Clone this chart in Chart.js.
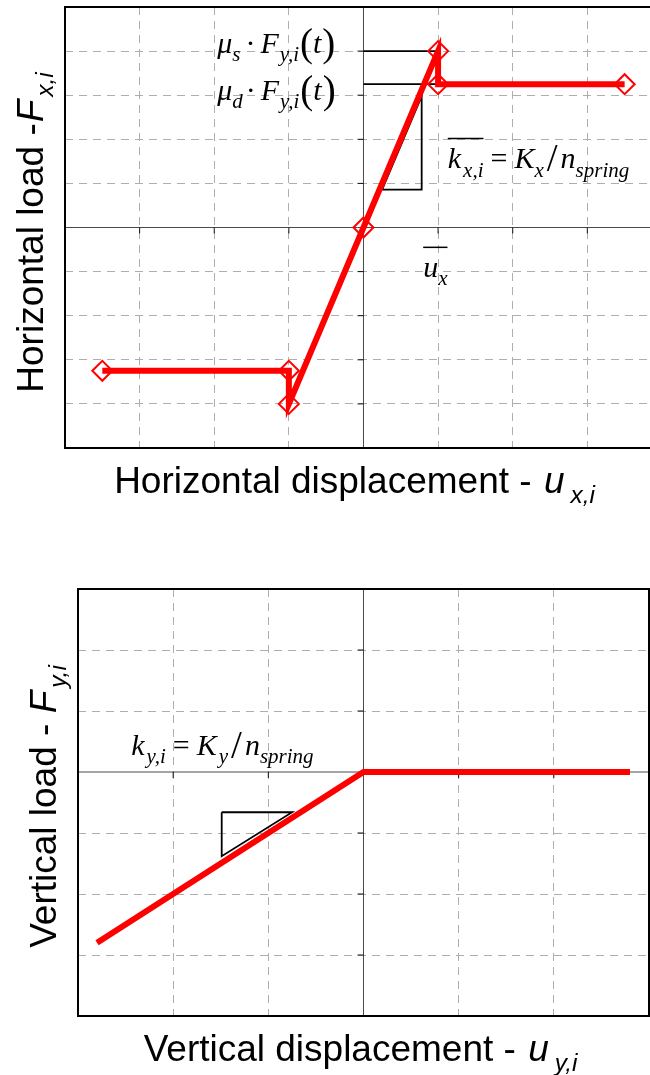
<!DOCTYPE html>
<html>
<head>
<meta charset="utf-8">
<script src="https://cdn.jsdelivr.net/npm/chart.js@4.4.1/dist/chart.umd.min.js"></script>
<style>
  html, body { margin: 0; padding: 0; background: #fff; }
  body { width: 650px; height: 1075px; position: relative; overflow: hidden; }
  .panel { position: absolute; left: 0; width: 650px; }
  #panelH { top: 0; height: 520px; }
  #panelV { top: 520px; height: 555px; }
</style>
</head>
<body>
<div class="panel" id="panelH"><canvas id="chartH"></canvas></div>
<div class="panel" id="panelV"><canvas id="chartV"></canvas></div>
<script>
// ── data ─────────────────────────────────────────────────
// horizontal spring: stick-slip friction law
const hxDisp = [-3.5, -1, -1, 0, 1, 1, 3.5];
const hxLoad = [-3.25, -3.25, -4, 0, 4, 3.25, 3.25];
// static / dynamic friction levels (from the load axis to u_x)
const hxRefDisp    = [0, 1];
const hxStaticRef  = [4, 4];
const hxDynamicRef = [3.25, 3.25];
// stiffness triangle
const hxSlopeDisp = [0.25, 0.78, 0.78, 0.25];
const hxSlopeLoad = [0.86, 0.86, 2.98, 0.86];

// vertical spring: compression only
const vyDisp = [-2.8, 0, 2.8];
const vyLoad = [-2.8, 0, 0];
const vySlopeDisp = [-1.49, -0.75, -1.49, -1.49];
const vySlopeLoad = [-0.66, -0.66, -1.38, -0.66];

// axis ranges (grid every unit)
const hxRange = { xMin: -4, xMax: 3.84, yMin: -5, yMax: 5 };
const vyRange = { xMin: -3, xMax: 3, yMin: -4, yMax: 3 };

const RED = '#ff0000';
const SANS = '"Liberation Sans", Arial, sans-serif';
const SERIF = '"Liberation Serif", "Times New Roman", serif';

const pts = (xs, ys) => xs.map((x, i) => ({ x, y: ys[i] }));

// ── rich text ────────────────────────────────────────────
// run: [text, kind] with kind r = roman, i = italic, s = italic subscript,
// big = enlarged roman (delimiters); a number is a gap in px;
// { overline: [...] } draws a bar over its runs
function runs(ctx, list, size, family, draw, x, y) {
  const subScale = family === SERIF ? 0.7 : 0.66;
  let cx = x;
  for (const run of list) {
    if (typeof run === 'number') { cx += run; continue; }
    if (run.overline) {
      const w = runs(ctx, run.overline, size, family, draw, cx, y);
      if (draw) {
        ctx.lineWidth = 1.5;
        ctx.beginPath();
        ctx.moveTo(cx, y - size);
        ctx.lineTo(cx + w, y - size);
        ctx.stroke();
      }
      cx += w;
      continue;
    }
    const [t, kind] = run;
    let fs = size, dy = 0, style = 'italic ';
    if (kind === 'r') style = '';
    if (kind === 'big') { style = ''; fs = size * 1.3; dy = size * 0.1; }
    if (kind === 's') { fs = size * subScale; dy = size * 0.27; }
    ctx.font = `${style}${fs}px ${family}`;
    if (draw) ctx.fillText(t, cx, y + dy);
    cx += ctx.measureText(t).width;
  }
  return cx - x;
}

function centred(ctx, list, size, family, cx, y) {
  const w = runs(ctx, list, size, family, false, 0, 0);
  runs(ctx, list, size, family, true, cx - w / 2, y);
}

// titles and formula labels per canvas
const panels = {
  chartH: {
    frame: ['left', 'top', 'bottom'],
    yShift: 5,
    xTitle: [['Horizontal displacement - ', 'r'], 2, ['u', 'i'], 6, ['x,i', 's']],
    yTitle: [['Horizontal load -', 'r'], 1, ['F', 'i'], 3, ['x,i', 's']],
    notes: [
      { x: -1.96, y: 3.95, text: [['μ', 'i'], ['s', 's'], 5, ['·', 'r'], 5, ['F', 'i'], 1, ['y,i', 's'], 1, ['(', 'big'], ['t', 'i'], 1, [')', 'big']] },
      { x: -1.96, y: 2.90, text: [['μ', 'i'], ['d', 's'], 3, ['·', 'r'], 5, ['F', 'i'], 1, ['y,i', 's'], 1, ['(', 'big'], ['t', 'i'], 1, [')', 'big']] },
      { x: 1.13, y: 1.34, text: [{ overline: [['k', 'i'], 2, ['x,i', 's']] }, 7, ['=', 'r'], 7, ['K', 'i'], ['x', 's'], 3, ['/', 'big'], 3, ['n', 'i'], ['spring', 's']] },
      { x: 0.80, y: -1.13, text: [{ overline: [['u', 'i'], ['x', 's']] }] },
    ],
  },
  chartV: {
    frame: ['left', 'top', 'right', 'bottom'],
    yShift: 4,
    xTitle: [['Vertical displacement - ', 'r'], 2, ['u', 'i'], 6, ['y,i', 's']],
    yTitle: [['Vertical load - ', 'r'], ['F', 'i'], 3, ['y,i', 's']],
    notes: [
      { x: -2.44, y: 0.28, text: [['k', 'i'], 2, ['y,i', 's'], 7, ['=', 'r'], 7, ['K', 'i'], 2, ['y', 's'], 3, ['/', 'big'], 3, ['n', 'i'], ['spring', 's']] },
    ],
  },
};

// frame, zero axes with small ticks, axis titles and formula labels
const sketchPlugin = {
  id: 'sketch',
  beforeDatasetsDraw(chart) {
    const cfg = panels[chart.canvas.id];
    const { ctx, chartArea: a, scales: { x, y } } = chart;
    const x0 = x.getPixelForValue(0), y0 = y.getPixelForValue(0);
    ctx.save();
    ctx.strokeStyle = '#4a4a4a';
    ctx.lineWidth = 1;
    ctx.beginPath();
    ctx.moveTo(x0, a.top); ctx.lineTo(x0, a.bottom);
    ctx.moveTo(a.left, y0); ctx.lineTo(a.right, y0);
    ctx.stroke();

    ctx.strokeStyle = '#111';
    ctx.beginPath();
    for (let v = Math.ceil(x.min) + 1; v < x.max; v++) {
      if (v === 0) continue;
      const p = x.getPixelForValue(v);
      ctx.moveTo(p, y0); ctx.lineTo(p, y0 + 6);
    }
    for (let v = Math.ceil(y.min) + 1; v < y.max; v++) {
      if (v === 0) continue;
      const p = y.getPixelForValue(v);
      ctx.moveTo(x0 - 6, p); ctx.lineTo(x0, p);
    }
    ctx.stroke();

    ctx.strokeStyle = '#000';
    ctx.lineWidth = 2;
    ctx.beginPath();
    if (cfg.frame.includes('left'))   { ctx.moveTo(a.left, a.top - 1);  ctx.lineTo(a.left, a.bottom + 1); }
    if (cfg.frame.includes('right'))  { ctx.moveTo(a.right, a.top - 1); ctx.lineTo(a.right, a.bottom + 1); }
    if (cfg.frame.includes('top'))    { ctx.moveTo(a.left, a.top);      ctx.lineTo(a.right, a.top); }
    if (cfg.frame.includes('bottom')) { ctx.moveTo(a.left, a.bottom);   ctx.lineTo(a.right, a.bottom); }
    ctx.stroke();
    ctx.restore();
  },
  afterDraw(chart) {
    const cfg = panels[chart.canvas.id];
    const { ctx, chartArea: a, scales: { x, y } } = chart;
    ctx.save();
    ctx.fillStyle = '#000';
    ctx.strokeStyle = '#000';
    ctx.textAlign = 'left';
    ctx.textBaseline = 'alphabetic';

    centred(ctx, cfg.xTitle, 37, SANS, (a.left + a.right) / 2 - 3, a.bottom + 45);
    ctx.save();
    ctx.translate(a.left - 22, (a.top + a.bottom) / 2 + cfg.yShift);
    ctx.rotate(-Math.PI / 2);
    centred(ctx, cfg.yTitle, 37, SANS, 0, 0);
    ctx.restore();

    cfg.notes.forEach(n => {
      runs(ctx, n.text, 30, SERIF, true, x.getPixelForValue(n.x), y.getPixelForValue(n.y));
    });
    ctx.restore();
  },
};

// ── shared options ───────────────────────────────────────
const gridColor = c => {
  const v = c.tick ? c.tick.value : NaN;
  return Number.isInteger(v) && v !== 0 ? '#aeaeae' : 'rgba(0,0,0,0)';
};

function axis(min, max) {
  return {
    type: 'linear',
    min, max,
    ticks: { display: false, stepSize: 1 },
    grid: { color: gridColor, lineWidth: 1, drawTicks: false },
    border: { display: false, dash: [8, 6] },
  };
}

function options(range, pad) {
  return {
    responsive: true,
    maintainAspectRatio: false,
    animation: false,
    layout: { padding: pad, autoPadding: false },
    plugins: { legend: { display: false }, tooltip: { enabled: false } },
    scales: { x: axis(range.xMin, range.xMax), y: axis(range.yMin, range.yMax) },
  };
}

const refLine = data => ({
  data,
  showLine: true,
  borderColor: '#000',
  borderWidth: 1.8,
  pointRadius: 0,
  order: 1,
});

// ── horizontal load vs displacement ──────────────────────
new Chart(document.getElementById('chartH'), {
  type: 'scatter',
  data: {
    datasets: [
      {
        data: pts(hxDisp, hxLoad),
        showLine: true,
        borderColor: RED,
        borderWidth: 6,
        pointStyle: 'rectRot',
        pointRadius: 10,
        pointBorderWidth: 2,
        pointBorderColor: RED,
        pointBackgroundColor: 'rgba(0,0,0,0)',
        order: 0,
      },
      refLine(pts(hxRefDisp, hxStaticRef)),
      refLine(pts(hxRefDisp, hxDynamicRef)),
      refLine(pts(hxSlopeDisp, hxSlopeLoad)),
    ],
  },
  options: options(hxRange, { left: 65, top: 7, right: 0, bottom: 72 }),
  plugins: [sketchPlugin],
});

// ── vertical load vs displacement ────────────────────────
new Chart(document.getElementById('chartV'), {
  type: 'scatter',
  data: {
    datasets: [
      {
        data: pts(vyDisp, vyLoad),
        showLine: true,
        borderColor: RED,
        borderWidth: 6,
        pointRadius: 0,
        order: 0,
      },
      refLine(pts(vySlopeDisp, vySlopeLoad)),
    ],
  },
  options: options(vyRange, { left: 78, top: 69, right: 1, bottom: 59 }),
  plugins: [sketchPlugin],
});
</script>
</body>
</html>
